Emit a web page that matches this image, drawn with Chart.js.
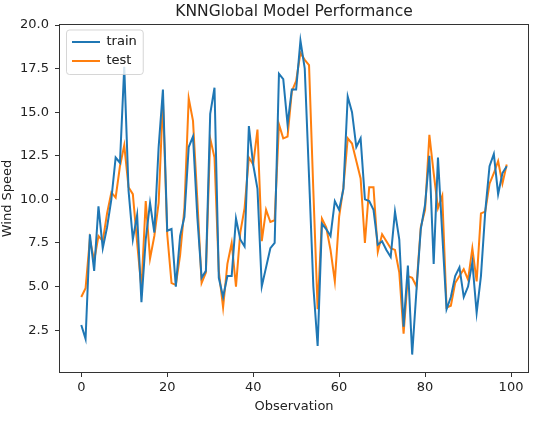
<!DOCTYPE html>
<html>
<head>
<meta charset="utf-8">
<title>KNNGlobal Model Performance</title>
<script src="https://cdn.jsdelivr.net/npm/chart.js@4.4.1/dist/chart.umd.min.js"></script>
<style>
    html, body { margin: 0; padding: 0; background: #ffffff; }
    #chart-wrap { width: 535px; height: 438px; }
</style>
</head>
<body>
<div id="chart-wrap"><canvas id="performance-chart" width="535" height="438"></canvas></div>
<script>
// Wind speed per observation
const trainSpeed = [
    2.8, 2.0, 8.0, 5.9, 9.6, 7.2, 8.4, 10.0, 12.4, 12.1,
    17.6, 10.5, 7.7, 9.1, 4.1, 7.7, 9.8, 8.1, 13.0, 16.3,
    8.2, 8.3, 5.0, 7.9, 9.0, 13.0, 13.6, 9.0, 5.5, 5.9,
    14.9, 16.4, 5.5, 4.4, 5.6, 5.6, 8.9, 7.7, 7.3, 14.2,
    12.0, 10.6, 5.0, 6.1, 7.2, 7.5, 17.2, 16.9, 14.3, 16.3,
    16.3, 19.1, 17.5, 11.3, 5.0, 1.6, 8.6, 8.3, 7.9, 9.9,
    9.4, 10.6, 15.9, 15.0, 13.0, 13.5, 10.0, 9.9, 9.4, 7.4,
    7.6, 7.1, 6.7, 9.3, 7.7, 2.7, 6.2, 1.1, 4.8, 8.3,
    9.7, 12.5, 6.3, 12.4, 8.0, 3.7, 4.4, 5.6, 6.1, 4.4,
    5.0, 6.4, 3.5, 5.6, 9.3, 11.9, 12.6, 10.3, 11.5, 11.9
];
const testSpeed = [
    4.4, 4.9, 7.7, 6.5, 7.9, 7.6, 9.2, 10.4, 10.1, 11.9,
    13.1, 10.7, 10.3, 7.5, 4.9, 9.9, 6.6, 7.9, 9.8, 15.7,
    8.0, 5.2, 5.1, 6.8, 9.5, 15.8, 14.5, 10.0, 5.2, 5.8,
    13.5, 12.4, 5.9, 3.8, 6.3, 7.5, 5.0, 8.1, 9.5, 12.4,
    12.0, 14.0, 7.6, 9.4, 8.7, 8.8, 14.3, 13.5, 13.6, 16.2,
    16.8, 18.4, 18.0, 17.7, 10.5, 3.7, 8.9, 8.4, 7.1, 5.3,
    9.0, 10.7, 13.5, 13.2, 12.2, 11.2, 7.5, 10.7, 10.7, 7.0,
    8.0, 7.6, 7.2, 7.1, 5.8, 2.3, 5.6, 5.5, 5.0, 8.4,
    9.4, 13.7, 11.5, 9.5, 10.2, 3.8, 3.9, 5.2, 5.6, 6.0,
    5.4, 7.2, 5.3, 9.2, 9.3, 10.9, 11.5, 12.2, 10.9, 12.0
];
const observations = Array.from({ length: trainSpeed.length }, (_, i) => i);

// Tick labels
const xTicks = [0, 20, 40, 60, 80, 100];
const yTicks = [2.5, 5.0, 7.5, 10.0, 12.5, 15.0, 17.5, 20.0];

const TEXT_COLOR = '#222222';
const AXIS_COLOR = '#333333';
const FONT = 'DejaVu Sans';

// Put the legend inside the axes (top left) and give it a frame like matplotlib
const legendInsidePlugin = {
    id: 'legendInside',
    afterLayout(chart) {
        const legend = chart.legend;
        const area = chart.chartArea;
        legend.left = area.left + 6;
        legend.top = area.top + 4.5;
        legend.right = legend.left + legend.width;
        legend.bottom = area.bottom;
    },
    afterDatasetsDraw(chart) {
        const legend = chart.legend;
        const boxes = legend.legendHitBoxes;
        if (!boxes || !boxes.length) return;

        const left = Math.min(...boxes.map(b => b.left)) - 5.5;
        const top = Math.min(...boxes.map(b => b.top)) - 5.5;
        const right = Math.max(...boxes.map(b => b.left + b.width)) + 6.5;
        const bottom = Math.max(...boxes.map(b => b.top + b.height)) + 7;

        const ctx = chart.ctx;
        ctx.save();
        ctx.beginPath();
        ctx.roundRect(left, top, right - left, bottom - top, 3);
        ctx.fillStyle = 'rgba(255, 255, 255, 0.8)';
        ctx.fill();
        ctx.lineWidth = 1;
        ctx.strokeStyle = 'rgba(204, 204, 204, 0.8)';
        ctx.stroke();
        ctx.restore();

        // draw the entries again on top of the frame
        legend.draw();
    }
};

// Box around the plot area (all four spines)
const framePlugin = {
    id: 'frame',
    afterDraw(chart) {
        const { left, top, right, bottom } = chart.chartArea;
        const ctx = chart.ctx;
        ctx.save();
        ctx.strokeStyle = AXIS_COLOR;
        ctx.lineWidth = 1;
        ctx.strokeRect(Math.round(left) - 0.5, Math.round(top) - 0.5,
            Math.round(right - left) + 1, Math.round(bottom - top) + 1);
        ctx.restore();
    }
};

function buildPoints(values) {
    return values.map((v, i) => ({ x: observations[i], y: v }));
}

function initializeChart() {
    Chart.defaults.font.family = FONT;
    Chart.defaults.font.size = 13;
    Chart.defaults.color = TEXT_COLOR;

    const ctx = document.getElementById('performance-chart').getContext('2d');

    return new Chart(ctx, {
        type: 'line',
        data: {
            datasets: [{
                label: 'train',
                data: buildPoints(trainSpeed),
                borderColor: '#1f77b4',
                backgroundColor: '#1f77b4',
                borderWidth: 2,
                pointRadius: 0,
                tension: 0,
                fill: false
            }, {
                label: 'test',
                data: buildPoints(testSpeed),
                borderColor: '#ff7f0e',
                backgroundColor: '#ff7f0e',
                borderWidth: 2,
                pointRadius: 0,
                tension: 0,
                fill: false
            }]
        },
        options: {
            responsive: false,
            animation: false,
            devicePixelRatio: 1,
            layout: {
                padding: { left: 0, right: 7, top: 0, bottom: 0 }
            },
            scales: {
                x: {
                    type: 'linear',
                    min: -4.95,
                    max: 103.95,
                    afterBuildTicks: (scale) => {
                        scale.ticks = xTicks.map(v => ({ value: v }));
                    },
                    afterFit: (scale) => {
                        scale.height = 66;
                    },
                    ticks: {
                        autoSkip: false,
                        maxRotation: 0,
                        padding: 3,
                        color: TEXT_COLOR
                    },
                    grid: {
                        drawOnChartArea: false,
                        drawTicks: true,
                        tickLength: 5,
                        tickWidth: 1,
                        tickColor: AXIS_COLOR
                    },
                    border: { display: false },
                    title: {
                        display: true,
                        text: 'Observation',
                        color: TEXT_COLOR,
                        padding: { top: 0, bottom: 24 }
                    }
                },
                y: {
                    type: 'linear',
                    min: 0.1,
                    max: 20.0,
                    afterBuildTicks: (scale) => {
                        scale.ticks = yTicks.map(v => ({ value: v }));
                    },
                    afterFit: (scale) => {
                        scale.width = 60;
                    },
                    ticks: {
                        padding: 6,
                        color: TEXT_COLOR,
                        callback: (value) => Number(value).toFixed(1)
                    },
                    grid: {
                        drawOnChartArea: false,
                        drawTicks: true,
                        tickLength: 5,
                        tickWidth: 1,
                        tickColor: AXIS_COLOR
                    },
                    border: { display: false },
                    title: {
                        display: true,
                        text: 'Wind Speed',
                        color: TEXT_COLOR,
                        padding: { top: 0, bottom: 0 }
                    }
                }
            },
            plugins: {
                title: {
                    display: true,
                    text: 'KNNGlobal Model Performance',
                    fullSize: false,
                    color: TEXT_COLOR,
                    font: { size: 15.5, weight: 'normal' },
                    padding: { top: 3, bottom: 3.4 }
                },
                legend: {
                    display: true,
                    position: 'chartArea',
                    align: 'start',
                    labels: {
                        usePointStyle: true,
                        pointStyle: 'line',
                        pointStyleWidth: 28,
                        padding: 6,
                        color: TEXT_COLOR,
                        font: { size: 13 }
                    }
                },
                tooltip: { enabled: false }
            }
        },
        plugins: [legendInsidePlugin, framePlugin]
    });
}

document.addEventListener('DOMContentLoaded', () => {
    initializeChart();
});
</script>
</body>
</html>
